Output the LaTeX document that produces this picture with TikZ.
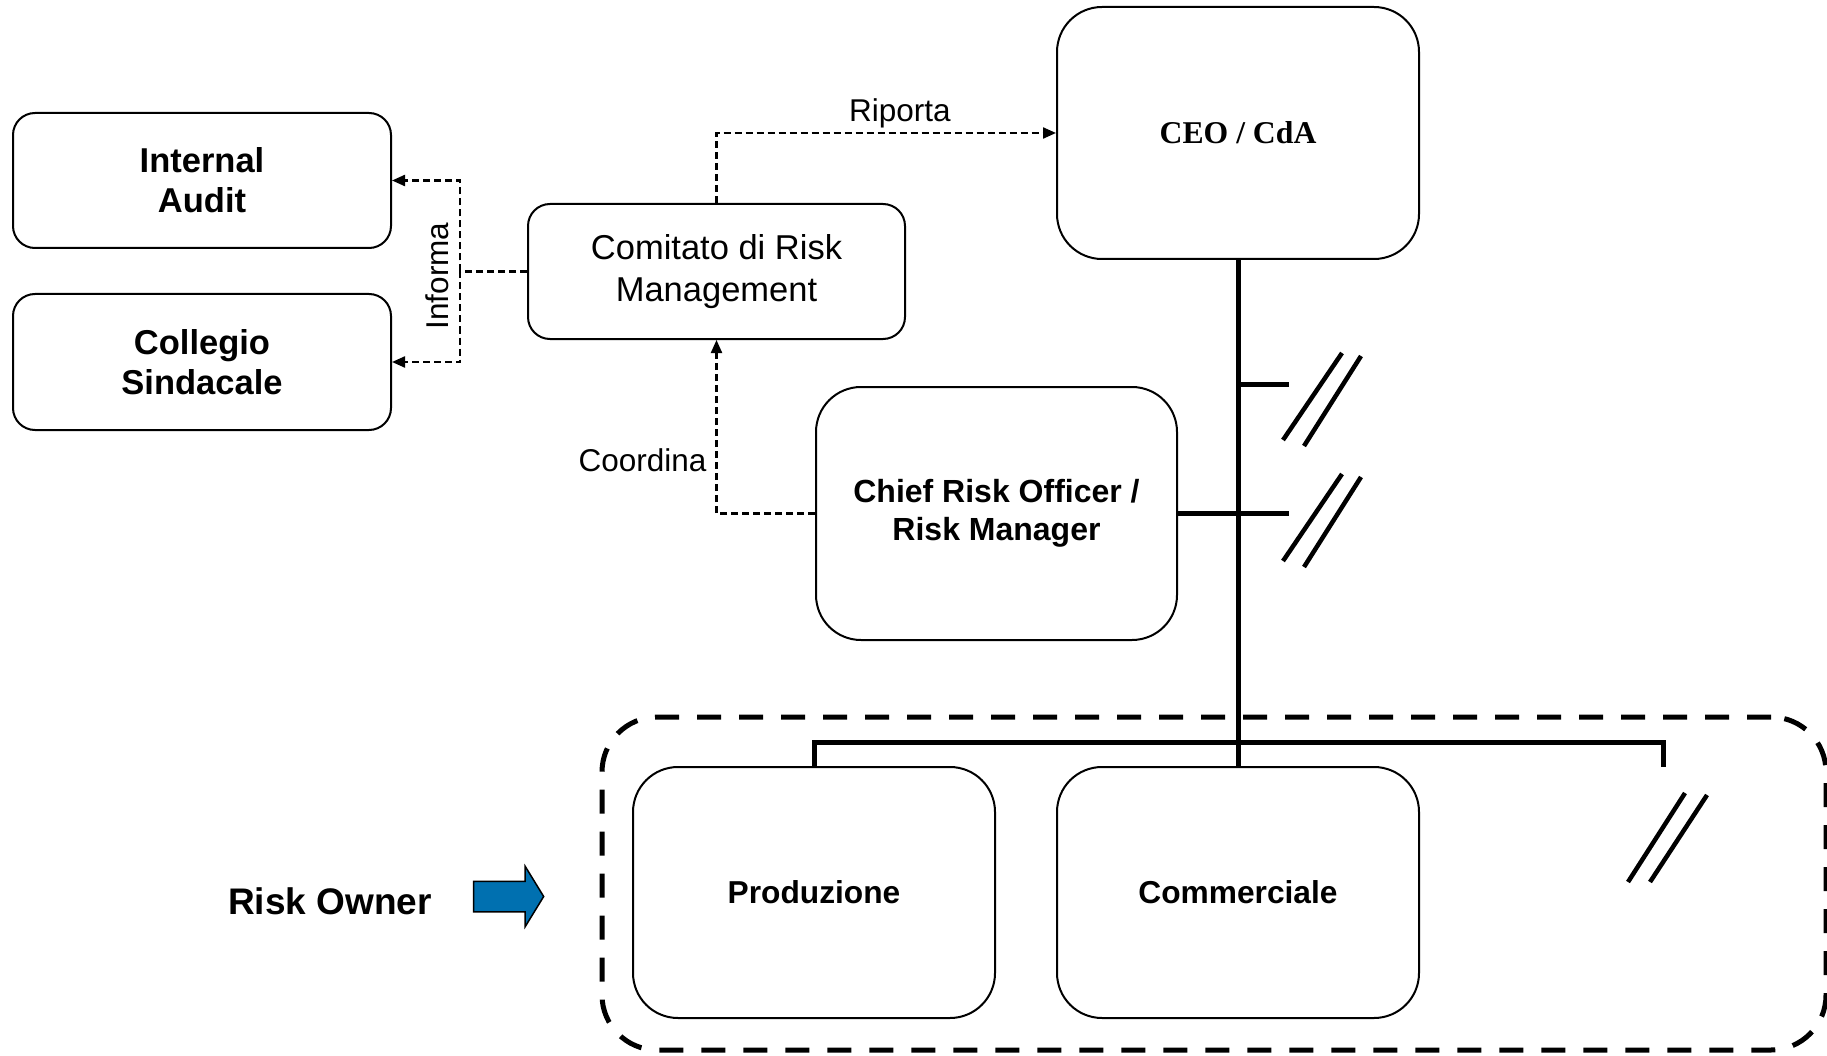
\documentclass[tikz,border=0pt]{standalone}
\usepackage{fontspec}
\setmainfont{Liberation Sans}
\newfontfamily\ceofont{Liberation Serif}
\usetikzlibrary{arrows.meta}
\usetikzlibrary{shapes.arrows}
\definecolor{ownerblue}{RGB}{0,112,176}

\tikzset{
  box/.style={draw, line width=2pt, rounded corners=22pt, align=center, inner sep=0pt},
  bigbox/.style={box, rounded corners=45pt, minimum width=362pt, minimum height=252pt},
  link/.style={line width=2.2pt, dash pattern=on 7pt off 4pt},
  tip/.style={-{Triangle[length=13pt,width=11pt]}},
  bus/.style={line width=5pt},
  brk/.style={line width=4.5pt},
  linklabel/.style={font=\fontsize{31.5}{36}\selectfont}
}

\begin{document}
\begin{tikzpicture}[x=1pt, y=-1pt]
  \useasboundingbox (0,0) rectangle (1827,1056);

  % left side
  \node (audit) [box, minimum width=378pt, minimum height=135pt, font=\fontsize{34.5}{40}\selectfont\bfseries] at (202, 180.5) {Internal\\Audit};
  \node (collegio) [box, minimum width=378pt, minimum height=136pt, font=\fontsize{34.5}{40}\selectfont\bfseries] at (202, 362) {Collegio\\Sindacale};
  \node (comitato) [box, minimum width=377pt, minimum height=135pt, font=\fontsize{34.5}{42}\selectfont] at (716.5, 271.5) {Comitato di Risk\\Management};

  % chain of command
  \node (ceo) [bigbox, font=\ceofont\fontsize{31.7}{36}\selectfont\bfseries] at (1238, 133) {CEO / CdA};
  \node (cro) [bigbox, minimum width=361pt, minimum height=253pt, font=\fontsize{32}{38}\selectfont\bfseries] at (996.5, 513.5) {Chief Risk Officer /\\Risk Manager};
  \node (prod) [bigbox, minimum height=251pt, font=\fontsize{31.7}{36}\selectfont\bfseries] at (814, 892.5) {Produzione};
  \node (comm) [bigbox, minimum height=251pt, font=\fontsize{31.7}{36}\selectfont\bfseries] at (1238, 892.5) {Commerciale};

  % risk owners
  \node (owners) [draw, line width=5pt, dash pattern=on 24pt off 18pt, rounded corners=55pt, minimum width=1224pt, minimum height=333pt] at (1214, 883.5) {};
  \node (owner) [font=\fontsize{37}{42}\selectfont\bfseries] at (330, 901) {Risk Owner};
  \node (ownerarrow) [single arrow, draw, fill=ownerblue, line width=1.5pt, inner xsep=0pt, inner ysep=14.5pt, minimum height=70pt, single arrow head extend=15pt, single arrow tip angle=117] at (504, 896.5) {};

  % dashed links
  \draw [link, tip] (comitato.north) |- (ceo.west) node [pos=0.77, above, linklabel, inner sep=4pt] (riporta) {Riporta};
  \coordinate (split) at (460, 271.5);
  \draw [link] (comitato.west) -- (split);
  \draw [link, tip] (split) |- (audit.east);
  \draw [link, tip] (split) |- (collegio.east);
  \node (informa) [rotate=90, linklabel] at (437, 276) {Informa};
  \draw [link, tip] (cro.west) -| (comitato.south) node [pos=0.654, left, linklabel, inner sep=9pt] (coordina) {Coordina};

  % solid lines
  \coordinate (stub1) at (1289, 384);
  \coordinate (stub2) at (1289, 513.5);
  \coordinate (branch) at (1663, 767);
  \draw [bus] (ceo.south) -- (comm.north);
  \draw [bus] (ceo.south |- stub1) -- (stub1);
  \draw [bus] (cro.east) -- (stub2);
  \draw [bus] (prod.north) -- ++(0,-24) -| (branch);

  \draw [brk] (1283,440) -- (1342,353);
  \draw [brk] (1304,446) -- (1361,356);
  \draw [brk] (1283,561) -- (1342,474);
  \draw [brk] (1304,567) -- (1361,477);
  \draw [brk] (1628,882) -- (1685,793);
  \draw [brk] (1650,882) -- (1707,795);
\end{tikzpicture}
\end{document}
